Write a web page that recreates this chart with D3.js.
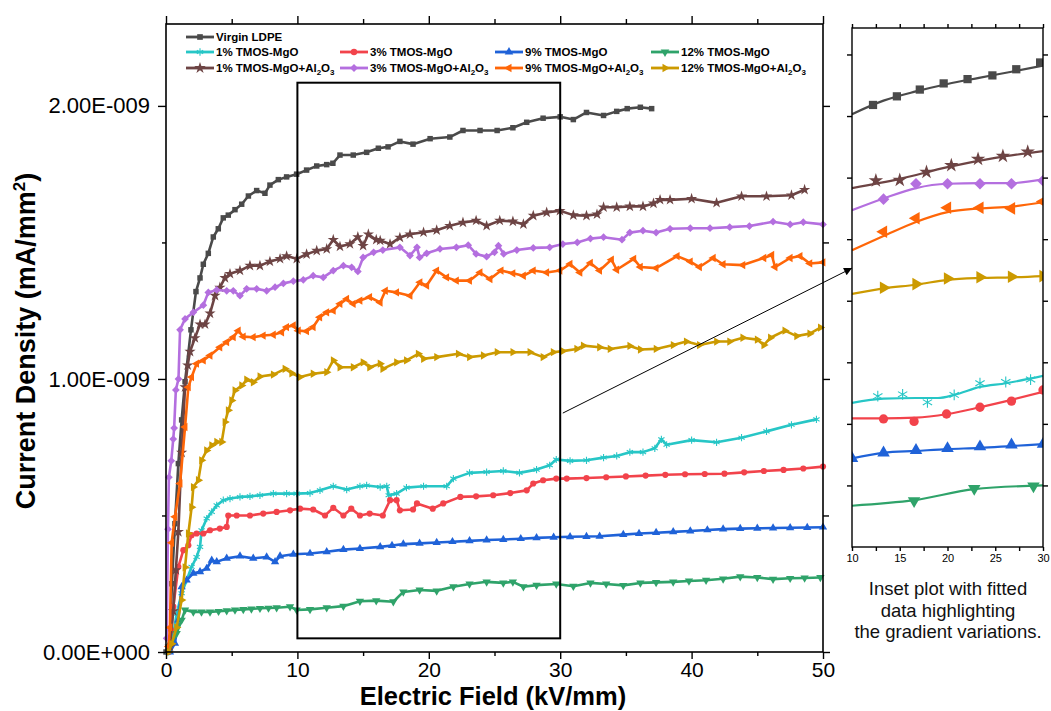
<!DOCTYPE html>
<html><head><meta charset="utf-8">
<script src="https://cdn.jsdelivr.net/npm/d3@7"></script>
<style>body{margin:0;background:#fff}svg{display:block}text{font-family:'Liberation Sans',Arial,sans-serif}</style>
</head><body><svg id="c" width="1051" height="711"></svg>
<script>
// ---------- DATA (x: kV/mm, y: current density in units of 1E-009 mA/mm^2) ----------
const xTicksMajor = [0, 10, 20, 30, 40, 50];
const xTicksMinor = [5, 15, 25, 35, 45];
const yTicksMajor = [0, 1, 2];
const yTicksMinor = [0.5, 1.5];
const insetXTicks = [10, 15, 20, 25, 30];
const insetXTicksAll = [10, 12.5, 15, 17.5, 20, 22.5, 25, 27.5, 30];
const insetYTicks = [1, 2, 3, 4, 5, 6, 7, 8];

const virginLDPE = [[0.0,0.0],[0.3,0.05],[0.45,0.25],[0.68,0.47],[0.94,0.69],[1.19,0.85],[1.45,0.99],[1.9,1.18],[2.28,1.32],[2.59,1.37],[2.84,1.42],[3.22,1.46],[3.6,1.52],[3.98,1.55],[4.36,1.59],[4.74,1.60],[5.25,1.62],[5.76,1.64],[6.27,1.67],[6.9,1.69],[7.53,1.68],[7.91,1.71],[8.55,1.73],[9.18,1.74],[9.94,1.75],[10.7,1.765],[11.47,1.78],[12.23,1.785],[12.7,1.79],[13.24,1.82],[14.25,1.82],[15.27,1.83],[16.16,1.845],[16.9,1.85],[17.8,1.87],[18.8,1.86],[20.1,1.88],[21.6,1.886],[22.6,1.91],[23.9,1.91],[25.2,1.91],[26.4,1.92],[27.45,1.94],[28.7,1.955],[30,1.96],[31,1.95],[32,1.976],[33.3,1.965],[34.3,1.98],[35.1,1.99],[36.1,1.995],[36.96,1.99]];
const tmos1 = [[0.2,0.0],[0.5,0.05],[0.81,0.14],[1.19,0.215],[1.57,0.263],[1.95,0.312],[2.33,0.348],[2.59,0.385],[2.71,0.446],[3.1,0.489],[3.48,0.513],[3.86,0.537],[4.36,0.556],[4.87,0.562],[5.63,0.568],[6.39,0.57],[7.15,0.574],[8.17,0.58],[9.18,0.58],[9.94,0.58],[10.96,0.582],[11.72,0.592],[12.73,0.607],[13.75,0.595],[14.76,0.607],[15.27,0.61],[16.3,0.604],[16.8,0.607],[16.95,0.574],[17.55,0.58],[18.3,0.602],[19.6,0.607],[21.36,0.607],[21.87,0.635],[23.1,0.656],[24.4,0.659],[25.67,0.663],[26.9,0.656],[28.2,0.668],[29.2,0.684],[29.7,0.705],[30.75,0.7],[32.0,0.702],[33.3,0.712],[34.3,0.718],[35.3,0.732],[36.3,0.732],[37.2,0.746],[37.7,0.779],[38.1,0.759],[40.0,0.776],[41.9,0.768],[43.8,0.785],[45.7,0.808],[47.6,0.832],[49.5,0.852]];
const tmos3 = [[0.2,0.0],[0.4,0.08],[0.56,0.166],[0.94,0.312],[1.32,0.373],[1.7,0.391],[1.95,0.428],[2.33,0.434],[2.84,0.434],[3.35,0.446],[4.1,0.452],[4.62,0.458],[4.74,0.5],[5.38,0.5],[6.39,0.5],[7.4,0.507],[8.42,0.513],[9.44,0.519],[10.2,0.525],[11.2,0.522],[12.1,0.5],[12.73,0.528],[13.5,0.5],[14.1,0.525],[14.76,0.5],[15.5,0.507],[16.5,0.5],[17.05,0.556],[17.55,0.556],[17.8,0.519],[18.8,0.522],[19.1,0.544],[20.3,0.525],[21.1,0.544],[22.4,0.568],[23.6,0.57],[24.9,0.574],[26.2,0.582],[27.45,0.592],[27.95,0.617],[28.7,0.629],[29.7,0.635],[30.5,0.635],[32.0,0.637],[33.5,0.64],[35.0,0.643],[36.5,0.646],[38.0,0.649],[39.5,0.651],[41.0,0.652],[42.5,0.653],[44.0,0.658],[45.5,0.663],[47.0,0.667],[48.5,0.672],[50.0,0.679]];
const tmos9 = [[0.3,0.0],[0.68,0.032],[0.94,0.117],[1.19,0.239],[1.57,0.263],[2.08,0.288],[2.59,0.294],[3.1,0.306],[3.48,0.336],[3.86,0.33],[4.62,0.343],[5.63,0.351],[6.64,0.343],[7.66,0.348],[8.3,0.33],[8.68,0.351],[9.69,0.358],[10.96,0.361],[12.23,0.367],[13.5,0.375],[14.76,0.379],[16.3,0.385],[17.2,0.39],[18.06,0.395],[19.3,0.398],[20.6,0.401],[21.8,0.404],[23.1,0.407],[24.4,0.41],[25.67,0.412],[27.0,0.415],[28.2,0.418],[29.5,0.42],[30.75,0.422],[32.0,0.423],[33.0,0.424],[34.8,0.43],[36.0,0.434],[37.3,0.437],[38.6,0.44],[39.9,0.443],[41.2,0.447],[42.4,0.45],[43.7,0.452],[45.0,0.453],[46.2,0.454],[47.5,0.455],[48.8,0.456],[50.0,0.457]];
const tmos12 = [[0.3,0.02],[0.81,0.068],[1.19,0.117],[1.45,0.154],[2.08,0.147],[2.7,0.147],[3.35,0.147],[4.0,0.149],[4.62,0.151],[5.25,0.154],[5.88,0.156],[6.5,0.158],[7.15,0.16],[7.8,0.161],[8.42,0.162],[9.44,0.166],[9.94,0.154],[10.96,0.156],[12.23,0.162],[13.5,0.168],[14.76,0.186],[16.0,0.188],[17.3,0.184],[18.06,0.22],[19.3,0.227],[20.6,0.224],[21.87,0.239],[23.1,0.249],[24.4,0.257],[25.67,0.253],[26.4,0.257],[27.2,0.239],[28.2,0.245],[29.7,0.249],[31.0,0.241],[32.3,0.253],[33.5,0.249],[34.8,0.244],[36.1,0.253],[37.3,0.255],[38.6,0.257],[39.8,0.26],[41.1,0.263],[42.4,0.268],[43.7,0.276],[45.0,0.273],[46.2,0.267],[47.5,0.27],[48.6,0.271],[49.8,0.273]];
const tmos1Al = [[0.3,0.02],[0.55,0.15],[0.75,0.3],[0.94,0.44],[1.19,0.73],[1.45,0.97],[1.65,1.05],[1.83,1.10],[2.2,1.15],[2.59,1.20],[2.97,1.20],[3.35,1.24],[3.73,1.305],[4.1,1.335],[4.49,1.37],[4.87,1.385],[5.63,1.397],[6.39,1.415],[7.15,1.415],[7.91,1.43],[8.68,1.44],[9.18,1.45],[9.95,1.44],[10.7,1.457],[11.47,1.47],[12.23,1.476],[12.73,1.51],[13.24,1.485],[14.0,1.494],[14.6,1.52],[15.0,1.488],[15.4,1.53],[16.0,1.51],[16.3,1.507],[17.05,1.494],[17.8,1.518],[18.57,1.53],[19.6,1.537],[20.6,1.545],[21.6,1.561],[22.6,1.573],[23.6,1.58],[24.4,1.561],[25.4,1.58],[26.4,1.577],[27.2,1.567],[27.95,1.598],[28.97,1.61],[29.98,1.616],[31.0,1.6],[32.0,1.598],[32.8,1.603],[33.3,1.629],[34.3,1.629],[35.3,1.632],[36.3,1.632],[37.1,1.643],[37.6,1.656],[38.36,1.656],[40.0,1.66],[41.9,1.645],[43.8,1.669],[45.7,1.669],[47.6,1.673],[48.6,1.693]];
const tmos3Al = [[0.05,0.05],[0.15,0.45],[0.22,0.64],[0.4,0.70],[0.55,0.78],[0.62,0.82],[0.75,0.96],[0.95,1.0],[1.07,1.18],[1.45,1.22],[2.08,1.244],[2.84,1.27],[3.22,1.317],[3.86,1.326],[4.62,1.323],[5.12,1.323],[5.63,1.305],[6.14,1.33],[6.9,1.33],[7.66,1.323],[8.3,1.336],[8.93,1.35],[9.69,1.358],[10.45,1.363],[11.2,1.378],[11.97,1.372],[12.73,1.397],[13.5,1.415],[14.13,1.409],[14.6,1.394],[15.0,1.445],[15.8,1.464],[16.5,1.472],[17.8,1.482],[18.57,1.452],[19.1,1.482],[19.3,1.445],[19.84,1.46],[20.85,1.476],[22.1,1.482],[23.0,1.49],[23.6,1.458],[24.4,1.448],[25.0,1.464],[25.3,1.488],[25.7,1.458],[26.7,1.472],[27.95,1.48],[29.2,1.482],[30.2,1.494],[31.3,1.5],[32.3,1.514],[33.3,1.519],[34.7,1.51],[35.3,1.536],[36.3,1.543],[37.3,1.536],[38.36,1.55],[39.9,1.552],[41.4,1.552],[42.9,1.556],[44.4,1.56],[46.2,1.576],[47.5,1.566],[48.5,1.574],[50.0,1.566]];
const tmos9Al = [[0.2,0.02],[0.3,0.09],[0.43,0.40],[0.68,0.495],[1.07,0.617],[1.45,0.824],[1.7,0.97],[1.95,1.007],[2.33,1.056],[2.84,1.068],[3.35,1.086],[4.1,1.116],[4.62,1.135],[5.12,1.153],[5.5,1.177],[5.88,1.155],[6.64,1.153],[7.4,1.159],[8.17,1.162],[8.8,1.171],[9.18,1.19],[9.69,1.196],[10.07,1.177],[10.7,1.175],[11.2,1.19],[11.7,1.226],[12.23,1.244],[12.73,1.25],[13.24,1.275],[13.75,1.293],[14.25,1.275],[14.76,1.287],[15.5,1.3],[16.3,1.28],[16.7,1.323],[17.55,1.317],[18.57,1.305],[19.33,1.354],[19.84,1.342],[20.6,1.397],[21.36,1.372],[22.1,1.36],[23.1,1.36],[23.9,1.39],[24.66,1.366],[25.5,1.397],[26.4,1.387],[27.2,1.378],[27.95,1.397],[28.97,1.39],[29.98,1.397],[30.75,1.421],[31.5,1.39],[32.3,1.425],[33.0,1.397],[33.9,1.437],[34.3,1.4],[35.6,1.44],[36.1,1.41],[37.3,1.406],[38.9,1.45],[39.9,1.43],[40.6,1.41],[41.65,1.443],[42.4,1.42],[43.9,1.417],[45.5,1.443],[46.1,1.454],[46.35,1.41],[47.5,1.443],[48.25,1.45],[49.0,1.423],[50.0,1.427]];
const tmos12Al = [[0.2,0.0],[0.43,0.03],[0.81,0.09],[1.19,0.19],[1.45,0.31],[1.7,0.434],[1.95,0.53],[2.08,0.604],[2.46,0.629],[2.71,0.702],[3.09,0.738],[3.48,0.757],[3.86,0.769],[4.24,0.769],[4.49,0.842],[4.74,0.885],[5.0,0.921],[5.25,0.958],[5.76,0.976],[6.14,0.997],[6.64,0.988],[7.15,1.009],[8.17,1.016],[9.06,1.037],[9.57,1.021],[10.2,1.007],[11.2,1.019],[12.23,1.025],[12.73,1.068],[13.24,1.043],[14.25,1.043],[15.0,1.061],[15.5,1.043],[16.3,1.056],[16.5,1.037],[17.55,1.061],[18.3,1.068],[19.2,1.092],[19.6,1.074],[20.6,1.08],[22.25,1.092],[23.1,1.08],[24.15,1.086],[25.2,1.098],[26.4,1.098],[27.7,1.098],[28.7,1.08],[29.47,1.098],[30.2,1.102],[31.26,1.11],[31.76,1.122],[33.0,1.116],[33.8,1.11],[35.3,1.121],[36.1,1.108],[37.3,1.11],[38.6,1.124],[39.6,1.137],[40.6,1.124],[41.9,1.137],[42.9,1.137],[43.9,1.151],[45.0,1.144],[45.5,1.124],[46.0,1.151],[47.1,1.177],[48.0,1.157],[49.0,1.166],[49.8,1.188]];

// Inset (arbitrary y units, x in kV/mm): fitted curves and measured points
const insetVirginFit = [[10,7.03],[13.3,7.25],[16.7,7.40],[20,7.52],[23.3,7.62],[26.7,7.72],[30,7.82]];
const insetVirginPts = [[12.2,7.18],[14.7,7.32],[17.1,7.43],[19.6,7.53],[22.1,7.60],[24.7,7.66],[27.2,7.76],[29.7,7.87]];
const inset1AlFit = [[10,5.83],[15,5.98],[20,6.17],[25,6.32],[30,6.43]];
const inset1AlPts = [[12.5,5.95],[15,5.96],[17.8,6.09],[20.4,6.2],[23.2,6.3],[25.8,6.35],[28.4,6.42]];
const inset3AlFit = [[10,5.47],[13.3,5.66],[16.7,5.83],[20,5.90],[23.4,5.91],[26.7,5.91],[30,5.97]];
const inset3AlPts = [[13.3,5.65],[16.7,5.9],[20,5.9],[23.4,5.9],[26.7,5.9],[30,5.95]];
const inset9AlFit = [[10,4.82],[13.3,5.05],[16.7,5.28],[20,5.44],[23.4,5.50],[26.7,5.53],[30,5.60]];
const inset9AlPts = [[13.3,5.12],[16.7,5.34],[20,5.51],[23.4,5.51],[26.7,5.5],[30,5.61]];
const inset12AlFit = [[10,4.11],[13.3,4.20],[16.7,4.26],[20,4.34],[23.4,4.37],[26.7,4.38],[30,4.40]];
const inset12AlPts = [[13.3,4.21],[16.7,4.27],[20,4.36],[23.4,4.38],[26.7,4.39],[30,4.40]];
const inset1Fit = [[10,2.34],[13.3,2.41],[16.7,2.42],[19,2.42],[20.7,2.47],[23.4,2.6],[26.1,2.66],[30,2.78]];
const inset1Pts = [[12.7,2.45],[15.3,2.48],[17.9,2.35],[20.7,2.47],[23.4,2.66],[26.1,2.68],[28.7,2.72]];
const inset3Fit = [[10,2.09],[13.3,2.09],[16.7,2.10],[20,2.16],[23.4,2.27],[26.7,2.39],[30,2.52]];
const inset3Pts = [[13.3,2.08],[16.5,2.04],[19.9,2.16],[23.4,2.27],[26.7,2.37],[30,2.55]];
const inset9Fit = [[10,1.44],[13.3,1.53],[16.7,1.56],[20,1.59],[23.4,1.61],[26.7,1.64],[30,1.67]];
const inset9Pts = [[10,1.44],[13.3,1.53],[16.7,1.57],[20,1.6],[23.4,1.63],[26.7,1.66],[30,1.67]];
const inset12Fit = [[10,0.67],[16.5,0.76],[22.8,0.94],[30,1.0]];
const inset12Pts = [[16.5,0.75],[22.8,0.95],[29,0.99]];

// annotation (data coordinates)
const zoomBoxX = [10, 30];
const zoomBoxY = [0.05, 2.085];
const arrowFrom = [30.2, 0.875];   // main-plot coordinates
const arrowTo = [10, 4.53];        // inset coordinates

// ---------- CHART ----------
const svg = d3.select("#c");
svg.append("rect").attr("width",1051).attr("height",711).attr("fill","#fff");
const FONT = "'Liberation Sans',Arial,sans-serif";

const x = d3.scaleLinear().domain([0,50]).range([166,823]);
const y = d3.scaleLinear().domain([0,2.3]).range([652,24]);
const xi = d3.scaleLinear().domain([10,30]).range([852,1043]);
const yi = d3.scaleLinear().domain([0,8.43]).range([547,28]);

const symTypes = {
  square:{t:d3.symbolSquare,r:0}, asterisk:{t:d3.symbolAsterisk||d3.symbolCross,r:0,stroke:true},
  circle:{t:d3.symbolCircle,r:0}, triUp:{t:d3.symbolTriangle,r:0}, triDown:{t:d3.symbolTriangle,r:180},
  star:{t:d3.symbolStar,r:0}, diamond:{t:d3.symbolSquare,r:45}, triLeft:{t:d3.symbolTriangle,r:-90},
  triRight:{t:d3.symbolTriangle,r:90}
};
const series = [
  {name:"Virgin LDPE", data:virginLDPE, fit:insetVirginFit, pts:insetVirginPts, color:"#4a4a4a", sym:"square"},
  {name:"1% TMOS-MgO", data:tmos1, fit:inset1Fit, pts:inset1Pts, color:"#27c6c6", sym:"asterisk"},
  {name:"3% TMOS-MgO", data:tmos3, fit:inset3Fit, pts:inset3Pts, color:"#f2434b", sym:"circle"},
  {name:"9% TMOS-MgO", data:tmos9, fit:inset9Fit, pts:inset9Pts, color:"#1f62d8", sym:"triUp"},
  {name:"12% TMOS-MgO", data:tmos12, fit:inset12Fit, pts:inset12Pts, color:"#2fa36a", sym:"triDown"},
  {name:"1% TMOS-MgO+Al", data:tmos1Al, fit:inset1AlFit, pts:inset1AlPts, color:"#6d4444", sym:"star", al:true},
  {name:"3% TMOS-MgO+Al", data:tmos3Al, fit:inset3AlFit, pts:inset3AlPts, color:"#b46fdf", sym:"diamond", al:true},
  {name:"9% TMOS-MgO+Al", data:tmos9Al, fit:inset9AlFit, pts:inset9AlPts, color:"#ff6608", sym:"triLeft", al:true},
  {name:"12% TMOS-MgO+Al", data:tmos12Al, fit:inset12AlFit, pts:inset12AlPts, color:"#cc9a00", sym:"triRight", al:true}
];
function drawMarker(g, sym, color, size, cx, cy, starK){
  const s = symTypes[sym];
  const sz = sym==="star" ? size*(starK||1.3) : (sym==="asterisk" ? size*1.2 : size);
  const p = g.append("path").attr("d", d3.symbol().type(s.t).size(sz)())
    .attr("transform", `translate(${cx},${cy}) rotate(${s.r})`);
  if (s.stroke) p.attr("fill","none").attr("stroke",color).attr("stroke-width",1.1);
  else p.attr("fill",color);
}

// main series
const line = d3.line().x(d=>x(d[0])).y(d=>y(d[1]));
const gMain = svg.append("g");
series.forEach(s=>{
  gMain.append("path").attr("d",line(s.data)).attr("fill","none").attr("stroke",s.color)
    .attr("stroke-width",2.6).attr("stroke-linejoin","round");
  const gm = gMain.append("g");
  s.data.forEach(d=>drawMarker(gm, s.sym, s.color, 30, x(d[0]), y(d[1])));
});

// frame and axes
svg.append("rect").attr("x",166).attr("y",24).attr("width",657).attr("height",628)
  .attr("fill","none").attr("stroke","#000").attr("stroke-width",1.6);
function styleAxis(g, fs){ g.attr("font-family",FONT).attr("font-size",fs); g.select(".domain").remove();
  g.selectAll("line").attr("stroke","#000").attr("stroke-width",1.4); g.selectAll("text").attr("fill","#000"); }
svg.append("g").attr("transform","translate(0,652)")
  .call(d3.axisBottom(x).tickValues(xTicksMajor).tickSize(7).tickPadding(3).tickFormat(d3.format("d"))).call(g=>styleAxis(g,21));
svg.append("g").attr("transform","translate(0,652)")
  .call(d3.axisBottom(x).tickValues(xTicksMinor).tickSize(4).tickFormat("")).call(g=>styleAxis(g,21));
svg.append("g").attr("transform","translate(0,24)")
  .call(d3.axisTop(x).tickValues(xTicksMajor).tickSize(8).tickFormat("")).call(g=>styleAxis(g,21));
svg.append("g").attr("transform","translate(0,24)")
  .call(d3.axisTop(x).tickValues(xTicksMinor).tickSize(5).tickFormat("")).call(g=>styleAxis(g,21));
const yFmt = d => d.toFixed(2) + (d===0 ? "E+000" : "E-009");
svg.append("g").attr("transform","translate(166,0)")
  .call(d3.axisLeft(y).tickValues(yTicksMajor).tickSize(8).tickPadding(8).tickFormat(yFmt)).call(g=>styleAxis(g,22));
svg.append("g").attr("transform","translate(166,0)")
  .call(d3.axisLeft(y).tickValues(yTicksMinor).tickSize(4).tickFormat("")).call(g=>styleAxis(g,22));
svg.append("g").attr("transform","translate(823,0)")
  .call(d3.axisRight(y).tickValues(yTicksMajor).tickSize(7).tickFormat("")).call(g=>styleAxis(g,22));
svg.append("g").attr("transform","translate(823,0)")
  .call(d3.axisRight(y).tickValues(yTicksMinor).tickSize(6).tickFormat("")).call(g=>styleAxis(g,22));

// titles
svg.append("text").attr("x",493).attr("y",705).attr("text-anchor","middle")
  .attr("font-family",FONT).attr("font-size",25.5).attr("font-weight","bold").text("Electric Field (kV/mm)");
const yt = svg.append("text").attr("transform","translate(35,341) rotate(-90)").attr("text-anchor","middle")
  .attr("font-family",FONT).attr("font-size",27).attr("font-weight","bold");
yt.append("tspan").text("Current Density (mA/mm");
yt.append("tspan").attr("dy",-10).attr("font-size",17).text("2");
yt.append("tspan").attr("dy",10).text(")");

// zoom box and arrow
svg.append("rect").attr("x",x(zoomBoxX[0])).attr("y",y(zoomBoxY[1]))
  .attr("width",x(zoomBoxX[1])-x(zoomBoxX[0])).attr("height",y(zoomBoxY[0])-y(zoomBoxY[1]))
  .attr("fill","none").attr("stroke","#000").attr("stroke-width",2);
svg.append("defs").append("marker").attr("id","ah").attr("viewBox","0 0 10 10").attr("refX",10).attr("refY",5)
  .attr("markerWidth",12).attr("markerHeight",8).attr("markerUnits","userSpaceOnUse").attr("orient","auto")
  .append("path").attr("d","M0,0 L10,5 L0,10 Z").attr("fill","#000");
svg.append("line").attr("x1",x(arrowFrom[0])).attr("y1",y(arrowFrom[1])).attr("x2",xi(arrowTo[0])).attr("y2",yi(arrowTo[1]))
  .attr("stroke","#000").attr("stroke-width",1).attr("marker-end","url(#ah)");

// legend
const legCols = [186, 340, 495, 651], legRows = [37, 52, 68];
const leg = svg.append("g").attr("font-family",FONT).attr("font-size",11.5).attr("font-weight","bold");
series.forEach((s,i)=>{
  const row = i===0 ? 0 : (i<=4 ? 1 : 2);
  const col = i===0 ? 0 : ((i-1)%4);
  const lx = legCols[col], ly = legRows[row];
  leg.append("line").attr("x1",lx).attr("x2",lx+28).attr("y1",ly).attr("y2",ly).attr("stroke",s.color).attr("stroke-width",2.8);
  drawMarker(leg, s.sym, s.color, 32, lx+14, ly);
  const t = leg.append("text").attr("x",lx+30).attr("y",ly+4);
  t.append("tspan").text(s.name);
  if (s.al){
    t.append("tspan").attr("font-size",8).attr("dy",3).text("2");
    t.append("tspan").attr("font-size",11.5).attr("dy",-3).text("O");
    t.append("tspan").attr("font-size",8).attr("dy",3).text("3");
  }
});

// ---------- INSET ----------
svg.append("defs").append("clipPath").attr("id","ic").append("rect")
  .attr("x",852).attr("y",28).attr("width",191).attr("height",519);
const gi = svg.append("g").attr("clip-path","url(#ic)");
const iline = d3.line().x(d=>xi(d[0])).y(d=>yi(d[1])).curve(d3.curveMonotoneX);
series.forEach(s=>{
  gi.append("path").attr("d",iline(s.fit)).attr("fill","none").attr("stroke",s.color).attr("stroke-width",2.2);
  s.pts.forEach(d=>drawMarker(gi, s.sym, s.color, 68, xi(d[0]), yi(d[1]), 0.95));
});
svg.append("rect").attr("x",852).attr("y",28).attr("width",191).attr("height",519)
  .attr("fill","none").attr("stroke","#000").attr("stroke-width",1.4);
svg.append("g").attr("transform","translate(0,547)")
  .call(d3.axisBottom(xi).tickValues(insetXTicksAll).tickSize(4).tickFormat("")).call(g=>styleAxis(g,11));
svg.append("g").attr("transform","translate(0,547)")
  .call(d3.axisBottom(xi).tickValues(insetXTicks).tickSize(0).tickPadding(7).tickFormat(d3.format("d"))).call(g=>styleAxis(g,11));
svg.append("g").attr("transform","translate(0,28)")
  .call(d3.axisTop(xi).tickValues(insetXTicksAll).tickSize(4).tickFormat("")).call(g=>styleAxis(g,11));
svg.append("g").attr("transform","translate(852,0)")
  .call(d3.axisLeft(yi).tickValues(insetYTicks).tickSize(5).tickFormat("")).call(g=>styleAxis(g,11));
svg.append("g").attr("transform","translate(1043,0)")
  .call(d3.axisRight(yi).tickValues(insetYTicks).tickSize(5).tickFormat("")).call(g=>styleAxis(g,11));

const cap = svg.append("text").attr("text-anchor","middle").attr("font-family",FONT).attr("font-size",18.5).attr("fill","#111");
["Inset plot with fitted","data highlighting","the gradient variations."].forEach((t,i)=>{
  cap.append("tspan").attr("x",948).attr("y",595+i*21.5).text(t);
});
</script></body></html>
